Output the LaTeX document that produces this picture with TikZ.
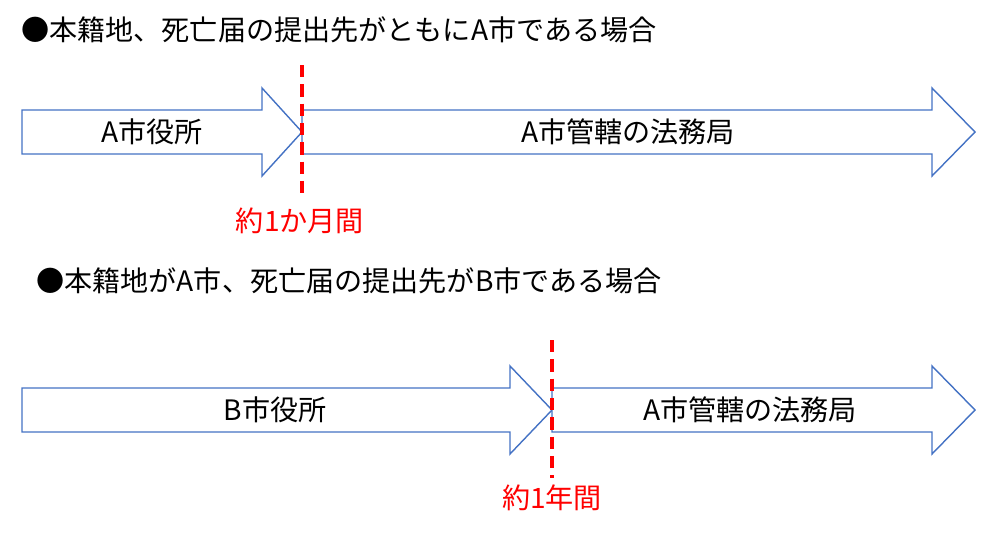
\documentclass[tikz,border=0pt]{standalone}
\usepackage{fontspec}
\setmainfont{Noto Sans CJK JP}
\definecolor{arrowblue}{HTML}{4472C4}
\definecolor{markred}{HTML}{FF0000}
\tikzset{
	blockarrow/.style={draw=arrowblue, line width=0.8pt, fill=white, line join=miter},
	markline/.style={draw=markred, line width=2pt, dash pattern=on 7pt off 4pt},
	arrowlabel/.style={font=\fontsize{16}{19}\selectfont},
	marklabel/.style={font=\fontsize{16}{19}\selectfont, text=markred},
	heading/.style={font=\fontsize{16}{19}\selectfont, anchor=west}
}
% block arrow: start x, head start x, tip x, centre y
\newcommand{\blockarr}[4]{%
	\draw[blockarrow] (#1,#4+0.44) -- (#2,#4+0.44) -- (#2,#4+0.88) -- (#3,#4)
		-- (#2,#4-0.88) -- (#2,#4-0.44) -- (#1,#4-0.44) -- cycle;}
\begin{document}
\begin{tikzpicture}
	\useasboundingbox (0,0) rectangle (20,-10.68);

	% first case
	\node[heading] (title1) at (0.3,-0.6) {●本籍地、死亡届の提出先がともにA市である場合};
	\blockarr{0.44}{5.24}{6.04}{-2.64}
	\blockarr{6.04}{18.64}{19.5}{-2.64}
	\node[arrowlabel] (office1) at (3.04,-2.64) {A市役所};
	\node[arrowlabel] (bureau1) at (12.56,-2.64) {A市管轄の法務局};
	\coordinate (top1) at (6.04,-1.3);
	\coordinate (bot1) at (6.04,-4.0);
	\draw[markline] (top1) -- (bot1);
	\node[marklabel] (term1) at (6.0,-4.42) {約1か月間};

	% second case
	\node[heading] (title2) at (0.6,-5.62) {●本籍地がA市、死亡届の提出先がB市である場合};
	\blockarr{0.44}{10.2}{11.04}{-8.2}
	\blockarr{11.04}{18.64}{19.5}{-8.2}
	\node[arrowlabel] (office2) at (5.5,-8.2) {B市役所};
	\node[arrowlabel] (bureau2) at (15.0,-8.2) {A市管轄の法務局};
	\coordinate (top2) at (11.04,-6.8);
	\coordinate (bot2) at (11.04,-9.56);
	\draw[markline] (top2) -- (bot2);
	\node[marklabel] (term2) at (11.04,-9.96) {約1年間};
\end{tikzpicture}
\end{document}
